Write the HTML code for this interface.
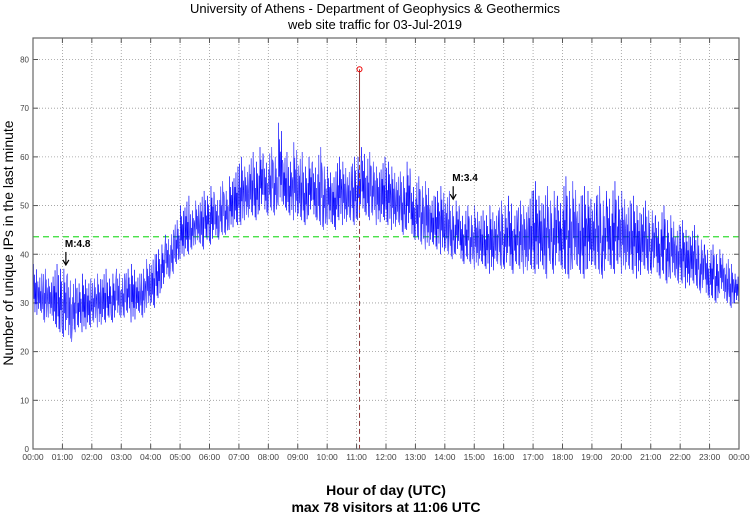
<!DOCTYPE html>
<html><head><meta charset="utf-8"><style>
body{margin:0;background:#fff;}
svg{display:block;font-family:"Liberation Sans",sans-serif;}
</style></head><body>
<svg id="c" width="750" height="515" viewBox="0 0 750 515"></svg>
<script>
const hourLabels=["00:00","01:00","02:00","03:00","04:00","05:00","06:00","07:00","08:00","09:00","10:00","11:00","12:00","13:00","14:00","15:00","16:00","17:00","18:00","19:00","20:00","21:00","22:00","23:00","00:00"];
const yTicks=[0,10,20,30,40,50,60,70,80];
// per-10-minute low/high envelope of unique IPs
const lowValues=[27,28,26,27,25,24, 23,22,24,25,24,25, 26,25,26,27,26,27, 27,28,26,28,27,29,
29,31,33,35,36,38, 39,40,41,42,41,43, 42,43,44,44,45,46, 46,47,48,47,49,48,
49,48,50,49,48,47, 47,46,48,47,46,45, 46,45,47,46,47,46, 47,48,47,48,46,47,
46,45,46,44,45,43, 43,42,41,42,41,40, 40,39,40,38,39,38, 37,38,37,36,38,37,
37,36,38,37,36,37, 36,37,35,38,36,37, 36,35,37,36,35,37, 37,36,35,37,36,38,
36,37,36,35,37,36, 36,35,36,34,35,34, 34,33,34,33,32,31, 31,30,32,30,29,30, 30];
const highValues=[38,36,37,35,38,37, 37,36,35,34,36,35, 35,36,37,35,36,37, 36,37,38,36,37,39,
40,41,42,44,45,47, 50,52,49,51,53,52, 54,52,55,53,56,58, 60,58,61,59,62,60,
62,60,67,61,59,63, 61,58,60,59,62,58, 58,57,60,59,58,60, 60,62,61,59,58,60,
59,58,57,56,59,55, 56,54,55,52,53,54, 53,50,51,49,50,48, 50,49,48,50,49,51,
50,52,49,51,50,53, 55,52,54,51,53,52, 56,53,55,52,54,53, 52,54,51,53,55,52,
53,51,52,50,51,49, 49,48,50,47,48,46, 47,45,46,44,43,42, 42,40,41,39,38,36, 34];
const averageValue=43.6;
const peakMinute=666, peakValue=78;
const annotations=[{minute:65,value:41.5,label:"M:4.8"},{minute:855,value:55,label:"M:3.4"}];

const NS="http://www.w3.org/2000/svg";
const svg=document.getElementById('c');
const L=33,R=739,T=38,B=449;
const xs=m=>L+(R-L)*m/1440;
const ys=v=>B-(v/80)*(B-59.5);
function el(tag,attrs,parent){const e=document.createElementNS(NS,tag);for(const k in attrs)e.setAttribute(k,attrs[k]);(parent||svg).appendChild(e);return e;}
function txt(s,attrs){const e=el('text',attrs);e.textContent=s;return e;}

const grid=el('g',{});


yTicks.forEach(v=>{if(v>0){el('line',{x1:L,x2:R,y1:ys(v),y2:ys(v),stroke:'#999','stroke-width':0.8,'stroke-dasharray':'1,2'},grid);}
 el('line',{x1:L,x2:L+5,y1:ys(v),y2:ys(v),stroke:'#555'},grid);
 el('line',{x1:R-5,x2:R,y1:ys(v),y2:ys(v),stroke:'#555'},grid);
 const t=txt(String(v),{x:L-4,y:ys(v)+3,'font-size':8,fill:'#444','text-anchor':'end'});
 });
hourLabels.forEach((s,i)=>{const x=xs(i*60);
 if(i>0&&i<24)el('line',{x1:x,x2:x,y1:T,y2:B,stroke:'#999','stroke-width':0.8,'stroke-dasharray':'1,2'},grid);
 el('line',{x1:x,x2:x,y1:B-5,y2:B,stroke:'#555'},grid);
 el('line',{x1:x,x2:x,y1:T,y2:T+5,stroke:'#555'},grid);
 const t=txt(s,{x:x,y:460,'font-size':8.5,fill:'#444','text-anchor':'middle'});
 });

const avg=el('line',{x1:L,x2:R,y1:ys(averageValue),y2:ys(averageValue),stroke:'#33dd33','stroke-width':1.3,'stroke-dasharray':'6,4'});


const fr_=[0,1,0.35,0.8,0.1,0.65,0.25,0.9,0.05,0.55];
let pts=[];
for(let i=0;i<lowValues.length;i++){const m=i*10;const lo=lowValues[i],hi=highValues[i];
 const n=(i===lowValues.length-1)?1:10;
 for(let k=0;k<n;k++){const f=fr_[(k+i*3)%10];pts.push(xs(m+k).toFixed(2)+','+ys(lo+(hi-lo)*f).toFixed(2));}}
const line=el('polyline',{points:pts.join(' '),fill:'none',stroke:'#0000ff','stroke-width':0.5});


const pk=el('line',{x1:xs(peakMinute),x2:xs(peakMinute),y1:ys(60),y2:B,stroke:'#8b3a3a','stroke-width':1,'stroke-dasharray':'5,3'});

el('line',{x1:xs(peakMinute),x2:xs(peakMinute),y1:ys(peakValue),y2:ys(60),stroke:'#8b3a3a','stroke-width':1});
const pc=el('circle',{cx:xs(peakMinute),cy:ys(peakValue),r:2.5,fill:'none',stroke:'#e00','stroke-width':1});


annotations.forEach(a=>{const x=xs(a.minute),y=ys(a.value);
 const t=txt(a.label,{x:x,y:y,'font-size':10,'font-weight':'bold',fill:'#000'});
 
 el('line',{x1:x+1,x2:x+1,y1:y+5,y2:y+17,stroke:'#000','stroke-width':1.2});
 const ar=el('path',{d:`M${x-2},${y+13} L${x+1},${y+18} L${x+4},${y+13}`,fill:'none',stroke:'#000','stroke-width':1.2});
 });

const fr=el('rect',{x:L,y:T,width:R-L,height:B-T,fill:'none',stroke:'#666','stroke-width':1.2});


const t1=txt('University of Athens - Department of Geophysics & Geothermics',{x:375,y:13,'font-size':13,'text-anchor':'middle'});

const t2=txt('web site traffic for 03-Jul-2019',{x:375,y:29,'font-size':13,'text-anchor':'middle'});

const xt=txt('Hour of day (UTC)',{x:386,y:495,'font-size':14,'font-weight':'bold','text-anchor':'middle'});

const xt2=txt('max 78 visitors at 11:06 UTC',{x:386,y:512,'font-size':14,'font-weight':'bold','text-anchor':'middle'});

const yt=txt('Number of unique IPs in the last minute',{x:0,y:0,'font-size':14,'text-anchor':'middle',transform:'translate(13,243) rotate(-90)'});

</script>
</body></html>
